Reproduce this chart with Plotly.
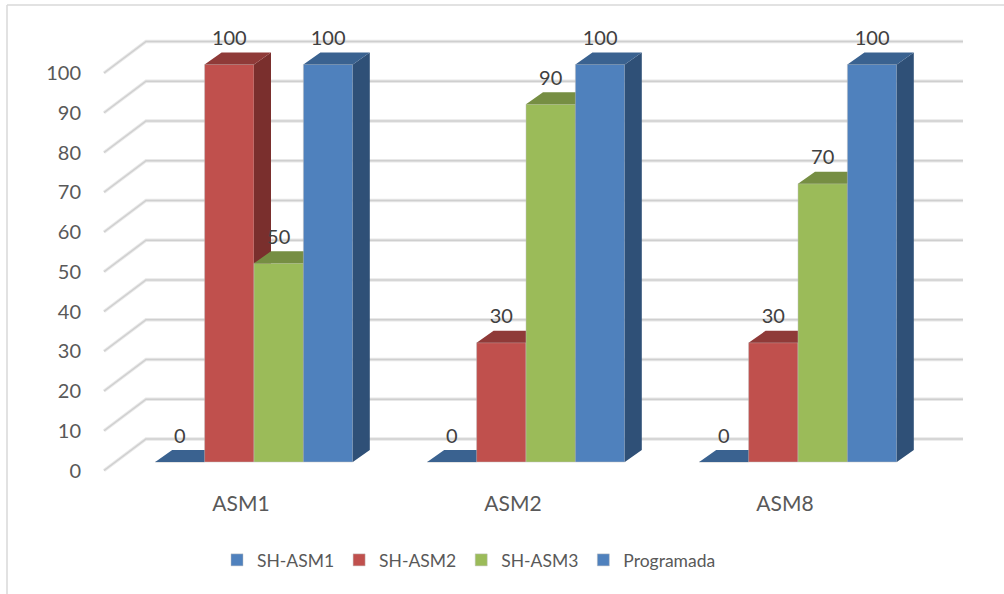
import plotly.graph_objects as go

categories = ["ASM1", "ASM2", "ASM8"]
series_names = ["SH-ASM1", "SH-ASM2", "SH-ASM3", "Programada"]
sh_asm1 = [0, 0, 0]
sh_asm2 = [100, 30, 30]
sh_asm3 = [50, 90, 70]
programada = [100, 100, 100]
y_ticks = [0, 10, 20, 30, 40, 50, 60, 70, 80, 90, 100]

front_colors = ["#4F81BD", "#C0504D", "#9BBB59", "#4F81BD"]
top_colors = ["#3A6290", "#8F3A38", "#768E43", "#3A6290"]
side_colors = ["#2F5077", "#7A2F2D", "#667A39", "#2F5077"]

W, H = 1004, 594
ML, MR, MT, MB = 100, 0, 8, 120
PX_PER_CAT = 272.0
PX_PER_UNIT = 3.975
X0_PX = 241.0
Y0_PX = 470.5
x_range = [(ML - X0_PX) / PX_PER_CAT, (W - MR - X0_PX) / PX_PER_CAT]
y_range = [(Y0_PX - (H - MB)) / PX_PER_UNIT, (Y0_PX - MT) / PX_PER_UNIT]

bar_w = 49.4 / PX_PER_CAT
bar_shift = 13.0 / PX_PER_CAT
bar_base = 8.5 / PX_PER_UNIT
top_dx = 17.0 / PX_PER_CAT
top_dy = 12.0 / PX_PER_UNIT
wall_dx = 42.0 / PX_PER_CAT
wall_dy = 31.5 / PX_PER_UNIT
wall_x0 = (104 - X0_PX) / PX_PER_CAT
wall_x1 = (963 - X0_PX) / PX_PER_CAT
label_dy = 24.5 / PX_PER_UNIT

FONT = "Lato, Carlito, sans-serif"
TEXT = "#595959"

fig = go.Figure()

# gridlines: the side wall diagonal and the back wall line for each tick
gx, gy = [], []
for t in y_ticks:
    gx += [wall_x0, wall_x0 + wall_dx, wall_x1, None]
    gy += [t, t + wall_dy, t + wall_dy, None]
for width, color in ((3.4, "#E8E8E8"), (1.4, "#CFCFCF")):
    fig.add_trace(go.Scatter(x=gx, y=gy, mode="lines", showlegend=False, hoverinfo="skip",
                             line=dict(color=color, width=width), xaxis="x", yaxis="y"))

all_series = [sh_asm1, sh_asm2, sh_asm3, programada]
label_x, label_y, label_t = [], [], []
for s, (name, vals) in enumerate(zip(series_names, all_series)):
    ax = str(s + 2)
    xs = [c + bar_shift + (s - 1.5) * bar_w for c in range(len(categories))]
    fig.add_trace(go.Bar(x=xs, y=vals, base=[bar_base] * len(vals), width=bar_w, name=name,
                         marker=dict(color=front_colors[s], line=dict(color="rgba(190,190,190,0.6)", width=0.8)),
                         xaxis="x" + ax, yaxis="y" + ax))
    tx, ty, sx, sy = [], [], [], []
    for x, v in zip(xs, vals):
        l, r = x - bar_w / 2, x + bar_w / 2
        t = v + bar_base
        tx += [l, r, r + top_dx, l + top_dx, l, None]
        ty += [t, t, t + top_dy, t + top_dy, t, None]
        sx += [r, r + top_dx, r + top_dx, r, r, None]
        sy += [bar_base, bar_base + top_dy, t + top_dy, t, bar_base, None]
        label_x.append(x)
        label_y.append(t + label_dy)
        label_t.append(str(v))
    fig.add_trace(go.Scatter(x=sx, y=sy, mode="lines", fill="toself", fillcolor=side_colors[s],
                             line=dict(width=0), showlegend=False, hoverinfo="skip",
                             xaxis="x" + ax, yaxis="y" + ax))
    fig.add_trace(go.Scatter(x=tx, y=ty, mode="lines", fill="toself", fillcolor=top_colors[s],
                             line=dict(width=0), showlegend=False, hoverinfo="skip",
                             xaxis="x" + ax, yaxis="y" + ax))

fig.add_trace(go.Scatter(x=label_x, y=label_y, text=label_t, mode="text", textposition="middle center",
                         textfont=dict(family=FONT, size=20, color="#404040"), showlegend=False,
                         hoverinfo="skip", xaxis="x5", yaxis="y5"))

layout = dict(
    width=W, height=H, autosize=False,
    margin=dict(l=ML, r=MR, t=MT, b=MB, pad=0),
    paper_bgcolor="white", plot_bgcolor="white",
    barmode="overlay",
    font=dict(family=FONT, size=20, color=TEXT),
    xaxis=dict(range=x_range, tickmode="array", tickvals=list(range(len(categories))), ticktext=categories,
               showgrid=False, zeroline=False, showline=False, ticks="outside", ticklen=11,
               tickcolor="rgba(0,0,0,0)", tickfont=dict(family=FONT, size=21, color=TEXT)),
    yaxis=dict(range=y_range, tickmode="array", tickvals=y_ticks, showgrid=False, zeroline=False,
               showline=False, ticks="outside", ticklen=14, tickcolor="rgba(0,0,0,0)",
               tickfont=dict(family=FONT, size=20, color=TEXT)),
    legend=dict(orientation="h", x=(217 - ML) / (W - ML - MR), xanchor="left",
                y=-(560 - (H - MB)) / (H - MT - MB), yanchor="middle",
                itemwidth=30,
                font=dict(family=FONT, size=17.5, color=TEXT), traceorder="normal"),
    shapes=[
        dict(type="line", xref="paper", yref="paper",
             x0=(7 - ML) / (W - ML - MR), x1=1.0,
             y0=(H - MB - 5) / (H - MT - MB), y1=(H - MB - 5) / (H - MT - MB),
             line=dict(color="#D9D9D9", width=1.5)),
        dict(type="line", xref="paper", yref="paper",
             x0=(7 - ML) / (W - ML - MR), x1=(7 - ML) / (W - ML - MR),
             y0=(H - MB - 5) / (H - MT - MB), y1=(H - MB - H) / (H - MT - MB),
             line=dict(color="#D9D9D9", width=1.5)),
    ],
)
for s in range(4):
    k = str(s + 2)
    layout["xaxis" + k] = dict(overlaying="x", matches="x", visible=False)
    layout["yaxis" + k] = dict(overlaying="y", matches="y", visible=False)
fig.update_layout(**layout)
fig.write_html("out.html", config={"displayModeBar": False},
               post_script="document.body.style.margin='0';")
